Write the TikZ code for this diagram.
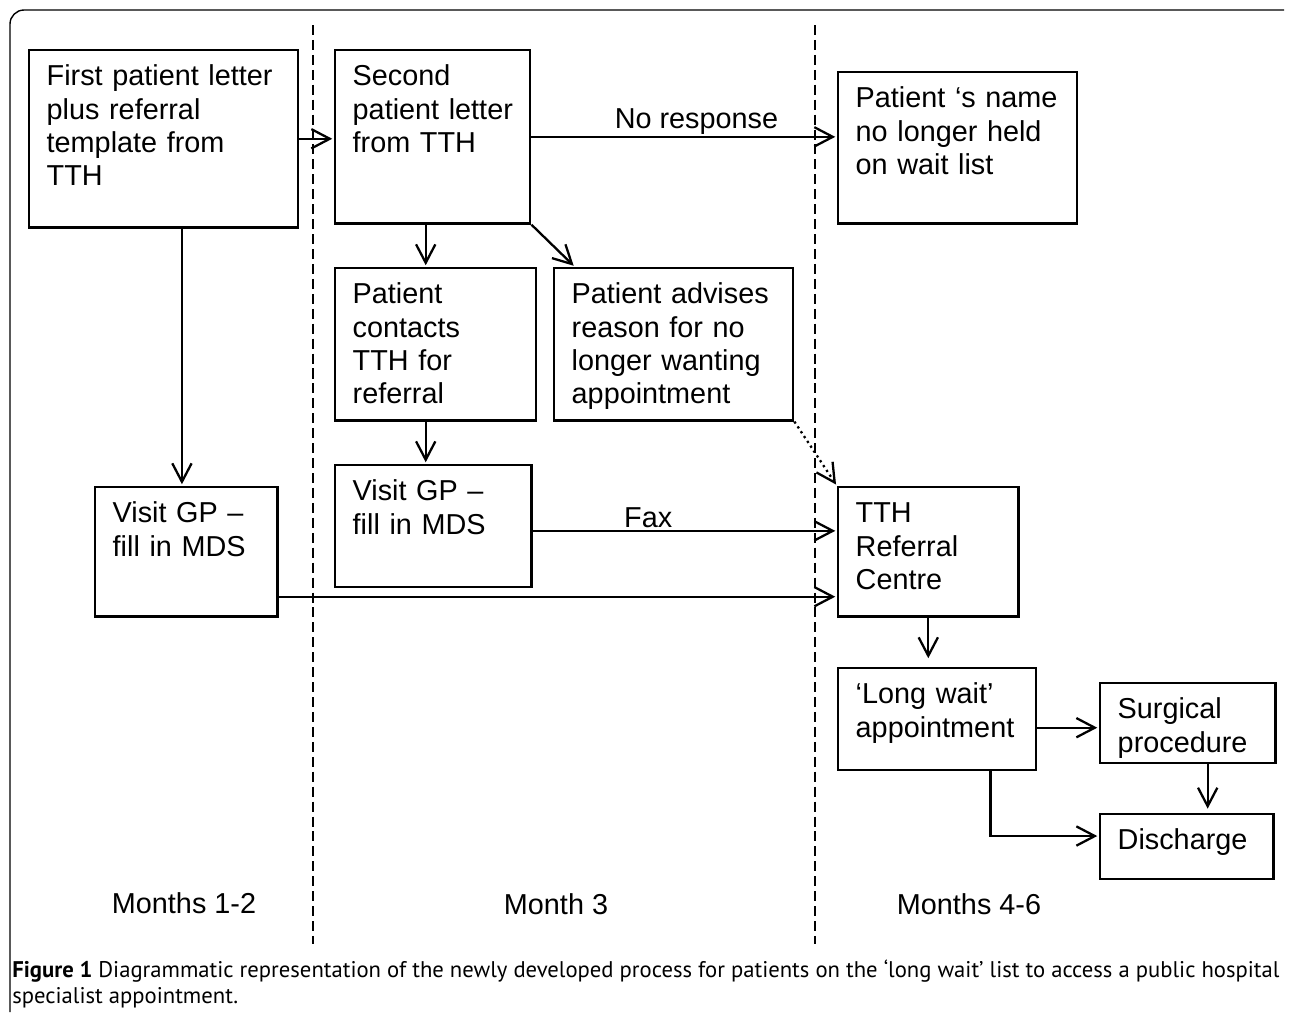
\documentclass[tikz,border=0pt]{standalone}
\usepackage{fontspec}
\setmainfont{Liberation Sans}
\newfontfamily\capfont{PT Sans}
\usetikzlibrary{arrows.meta}

\tikzset{
  stage/.style={draw, line width=1.3pt, anchor=north west, align=left,
    inner xsep=10pt, inner ysep=8pt, text height=12.4pt},
  flow/.style={-{Straight Barb[length=10.5pt,width=11pt]}, line width=1.3pt, shorten >=1pt},
  period/.style={line width=0.9pt, dash pattern=on 5.7pt off 2.8pt}
}

\begin{document}
\begin{tikzpicture}[x=0.02cm, y=-0.02cm, font=\fontsize{16.4}{18.9}\selectfont]
\useasboundingbox (0,0) rectangle (1290,1014);

% frame and month dividers
\draw[line width=0.8pt, rounded corners=8pt] (10,1012) |- (1284,10);
\draw[period] (313,25) -- (313,944);
\draw[period] (815,25) -- (815,944);

% months 1-2
\node[stage, text width=133.1pt, text depth=72.5pt] (first) at (28,49) {First patient letter\\plus referral\\template from\\TTH};
\node[stage, text width=83.8pt, text depth=45.3pt] (visitL) at (94,486) {Visit GP --\\fill in MDS};

% month 3
\node[stage, text width=91.1pt, text depth=70.3pt] (second) at (334,49) {Second\\\mbox{patient letter}\\from TTH};
\node[stage, text width=94.5pt, text depth=58.3pt] (contacts) at (334,267) {Patient\\contacts\\TTH for\\referral};
\node[stage, text width=116.1pt, text depth=58.3pt] (advises) at (553,267) {Patient advises\\reason for no\\longer wanting\\appointment};
\node[stage, text width=91.7pt, text depth=40.8pt] (visitM) at (334,464) {Visit GP --\\fill in MDS};

% months 4-6
\node[stage, text width=116.1pt, text depth=57.8pt] (name) at (837,71) {Patient ‘s name\\no longer held\\on wait list};
\node[stage, text width=82.6pt, text depth=45.3pt] (tth) at (837,486) {TTH\\Referral\\Centre};
\node[stage, text width=92.8pt, text depth=29.4pt] (long) at (837,667) {‘Long wait’\\appointment};
\node[stage, text width=79.8pt, text depth=17.0pt] (surgical) at (1099,682) {Surgical\\procedure};
\node[stage, text width=78.7pt, text depth=8.5pt] (discharge) at (1099,813) {Discharge};

\node (m12) at (184,903) {Months 1-2};
\node (m3) at (556,904) {Month 3};
\node (m46) at (969,904) {Months 4-6};

% connectors
\draw[flow] (first.east) -- (first.east -| second.west);
\draw[flow] (second.east) -- (second.east -| name.west)
  node[above, pos=0.54, inner sep=0.6pt] {No response};
\draw[flow] ([xshift=-5.7pt]contacts.north |- second.south) -- ([xshift=-5.7pt]contacts.north);
\draw[flow] (second.south east) -- ([xshift=12.5pt]advises.north west);
\draw[flow] ([xshift=-5.7pt]contacts.south) -- ([xshift=-5.7pt]contacts.south |- visitM.north);
\draw[flow, dotted] (advises.south east) -- (tth.north west);
\draw[flow] ([xshift=-2.5pt]visitL.north |- first.south) -- ([xshift=-2.5pt]visitL.north);
\draw[flow] ([yshift=-2.8pt]visitM.east) -- ([yshift=-2.8pt]visitM.east -| tth.west)
  node[above, pos=0.38, inner sep=1pt] {Fax};
\draw[flow] ([yshift=-25.5pt]visitL.east) -- ([yshift=-25.5pt]visitL.east -| tth.west);
\draw[flow, shorten >=5pt] (tth.south) -- (tth.south |- long.north);
\draw[flow] ([yshift=-5pt]long.east) -- ([yshift=-5pt]long.east -| surgical.west);
\draw[flow, shorten >=2.5pt] ([xshift=11.3pt]surgical.south) -- ([xshift=11.3pt]surgical.south |- discharge.north);
\draw[flow] ([xshift=30.3pt]long.south) |- ([yshift=6pt]discharge.west);

% caption
\node[anchor=north west, align=left, inner sep=0pt,
  font=\capfont\fontsize{12.9}{15.3}\selectfont] (caption) at (12,959)
  {\textbf{Figure 1} Diagrammatic representation of the newly developed process for patients on the ‘long wait’ list to access a public hospital\\specialist appointment.};
\end{tikzpicture}
\end{document}
